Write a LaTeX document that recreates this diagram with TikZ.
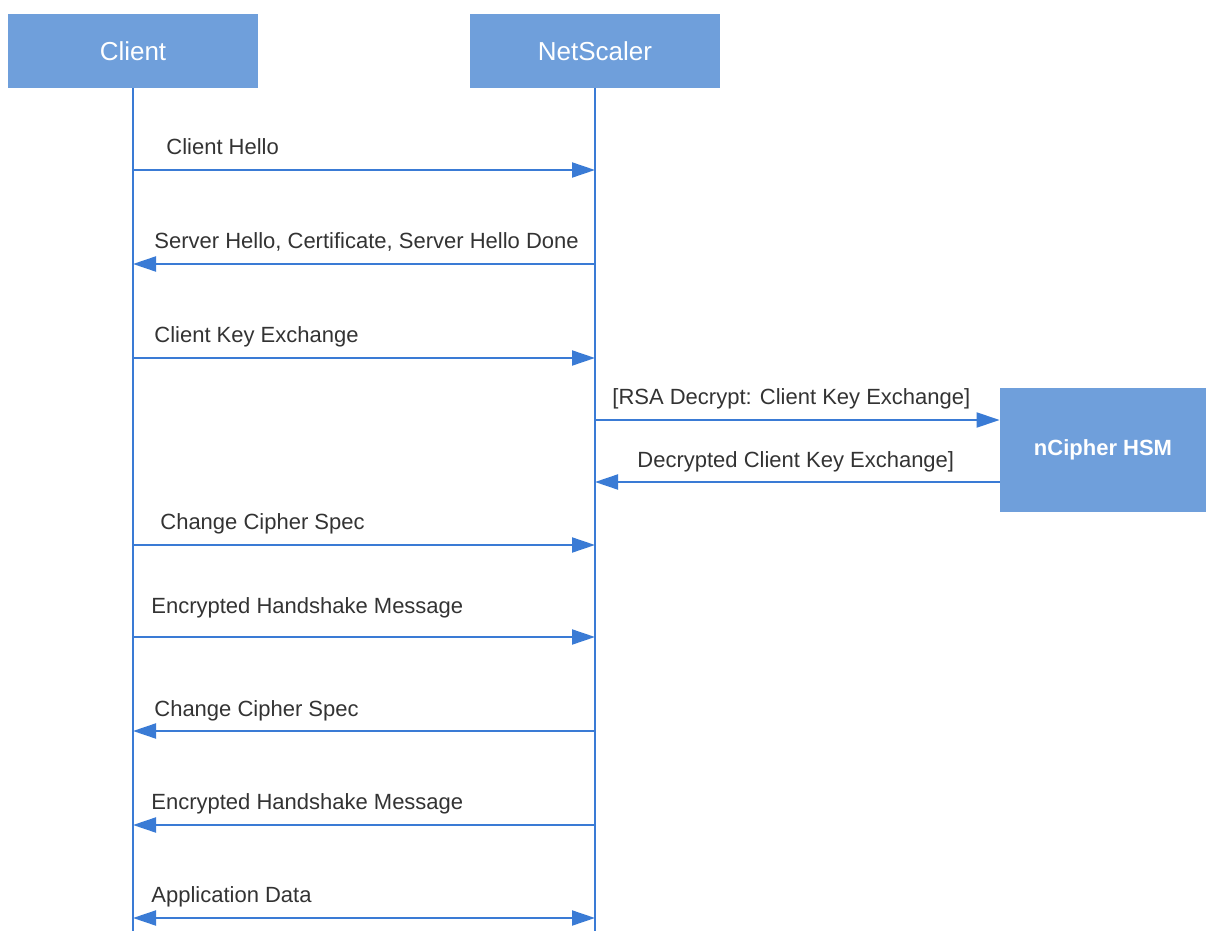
\documentclass[tikz,border=0pt]{standalone}
\usepackage{fontspec}
\setmainfont{Liberation Sans}
\usetikzlibrary{arrows.meta,positioning}
\definecolor{boxblue}{HTML}{6F9FDB}
\definecolor{lineblue}{HTML}{3A7BD5}
\definecolor{textgray}{HTML}{333333}
\tikzset{
  party/.style={
    fill=boxblue,
    draw=none,
    minimum width=125pt,
    minimum height=37pt,
    text=white,
    font=\fontsize{13}{15}\selectfont
  },
  hsm/.style={
    party,
    minimum width=103pt,
    minimum height=62pt,
    font=\bfseries\fontsize{11}{14}\selectfont
  },
  lifeline/.style={
    draw=lineblue,
    line width=1pt
  },
  msg/.style={
    draw=lineblue,
    line width=1pt,
    -{Triangle[length=11.5pt,width=7.5pt]}
  },
  twoway/.style={
    msg,
    {Triangle[length=11.5pt,width=7.5pt]}-{Triangle[length=11.5pt,width=7.5pt]}
  },
  msglabel/.style={
    text=textgray,
    anchor=base west,
    inner sep=0pt,
    font=\fontsize{11}{13}\selectfont
  }
}

\begin{document}
\begin{tikzpicture}[x=0.5pt,y=-0.5pt]
  \useasboundingbox (0,0) rectangle (1206,931);

  % parties
  \node[party] (client) at (133,51) {Client};
  \node[party] (netscaler) at (595,51) {NetScaler};
  \node[hsm] (hsm) at (1103,450) {nCipher HSM};

  \coordinate (clientend) at (133,931);
  \coordinate (netend) at (595,931);
  \draw[lifeline] (client.south) -- (clientend);
  \draw[lifeline] (netscaler.south) -- (netend);

  % message rows on the lifelines
  \foreach \i/\y in {1/170,2/264,3/358,4/420,5/482,6/545,7/637,8/731,9/825,10/918} {
    \coordinate (c\i) at (133,\y);
    \coordinate (n\i) at (595,\y);
  }
  \coordinate (h4) at (hsm.west |- n4);
  \coordinate (h5) at (hsm.west |- n5);

  \draw[msg] (c1) -- (n1);
  \node[msglabel] (hello) at (166,155) {Client Hello};

  \draw[msg] (n2) -- (c2);
  \node[msglabel] (serverhello) at (154,249) {Server Hello, Certificate, Server Hello Done};

  \draw[msg] (c3) -- (n3);
  \node[msglabel] (keyex) at (154,342) {Client Key Exchange};

  \draw[msg] (n4) -- (h4);
  \node[msglabel] (decrypt) at (612,404) {[RSA Decrypt: Client Key Exchange]};

  \draw[msg] (h5) -- (n5);
  \node[msglabel] (decrypted) at (637,467) {Decrypted Client Key Exchange]};

  \draw[msg] (c6) -- (n6);
  \node[msglabel] (cipherc) at (160,529) {Change Cipher Spec};

  \draw[msg] (c7) -- (n7);
  \node[msglabel] (handc) at (151,613) {Encrypted Handshake Message};

  \draw[msg] (n8) -- (c8);
  \node[msglabel] (ciphers) at (154,716) {Change Cipher Spec};

  \draw[msg] (n9) -- (c9);
  \node[msglabel] (hands) at (151,809) {Encrypted Handshake Message};

  \draw[twoway] (c10) -- (n10);
  \node[msglabel] (appdata) at (151,902) {Application Data};
\end{tikzpicture}
\end{document}
